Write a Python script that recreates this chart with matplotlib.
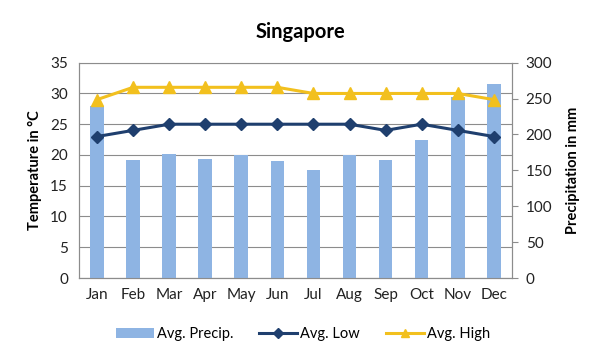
import matplotlib
matplotlib.use("Agg")
import matplotlib.pyplot as plt
from matplotlib.lines import Line2D
from matplotlib.patches import Patch

months = ["Jan", "Feb", "Mar", "Apr", "May", "Jun", "Jul", "Aug", "Sep", "Oct", "Nov", "Dec"]
precip = [240, 164, 173, 166, 171, 163, 150, 171, 164, 192, 252, 270]
low = [23, 24, 25, 25, 25, 25, 25, 25, 24, 25, 24, 23]
high = [29, 31, 31, 31, 31, 31, 30, 30, 30, 30, 30, 29]

plt.rcParams['font.family'] = ['Lato', 'DejaVu Sans']

bar_c = "#8EB4E3"
low_c = "#1F3F6E"
high_c = "#F2C01E"
grid_c = "#8C8C8C"

fig = plt.figure(figsize=(6, 3.61), dpi=100)
ax = fig.add_axes([0.1317, 0.2299, 0.7213, 0.5964])
ax2 = ax.twinx()

x = list(range(len(months)))
ax2.bar(x, precip, width=0.38, color=bar_c, zorder=2)
ax2.set_ylim(0, 300)
ax2.set_yticks(range(0, 301, 50))

ax.set_ylim(0, 35)
ax.set_yticks(range(0, 36, 5))
ax.set_xlim(-0.5, 11.5)
ax.set_xticks(x)
ax.set_xticklabels(months)
ax.yaxis.grid(True, color=grid_c, linewidth=0.8)
ax.set_axisbelow(True)

ax3 = ax.twinx()
ax3.set_ylim(0, 35)
ax3.axis('off')
ax3.plot(x, low, color=low_c, linewidth=2.2, marker='D', markersize=6.5, zorder=3)
ax3.plot(x, high, color=high_c, linewidth=2.2, marker='^', markersize=8, zorder=3)

for a in (ax, ax2):
    for s in a.spines.values():
        s.set_color(grid_c)
        s.set_linewidth(0.8)
    a.spines['top'].set_visible(False)
ax.spines['top'].set_visible(True)
ax.tick_params(axis='both', labelsize=11, length=0)
ax.tick_params(axis='y', pad=8)
ax.tick_params(axis='x', pad=7)
ax2.tick_params(axis='y', colors=grid_c, labelsize=11, length=4, pad=6)
for lab in ax.get_xticklabels() + ax.get_yticklabels() + ax2.get_yticklabels():
    lab.set_color("#222222")

ax.set_ylabel("Temperature in °C", fontsize=10.5, fontweight='bold', labelpad=6)
ax2.set_ylabel("Precipitation in mm", fontsize=10.5, fontweight='bold', labelpad=10)

fig.suptitle("Singapore", x=0.5, y=0.94, fontsize=14.5, fontweight='bold')

handles = [Patch(facecolor=bar_c, edgecolor='none'),
           Line2D([], [], color=low_c, linewidth=2.2, marker='D', markersize=5),
           Line2D([], [], color=high_c, linewidth=2.2, marker='^', markersize=6)]
fig.legend(handles, ["Avg. Precip.", "Avg. Low", "Avg. High"], loc='center',
           bbox_to_anchor=(0.505, 0.075), ncol=3, frameon=False, fontsize=10.5,
           handlelength=2.6, handletextpad=0.2, columnspacing=1.8)

fig.savefig("out.png", dpi=100)
